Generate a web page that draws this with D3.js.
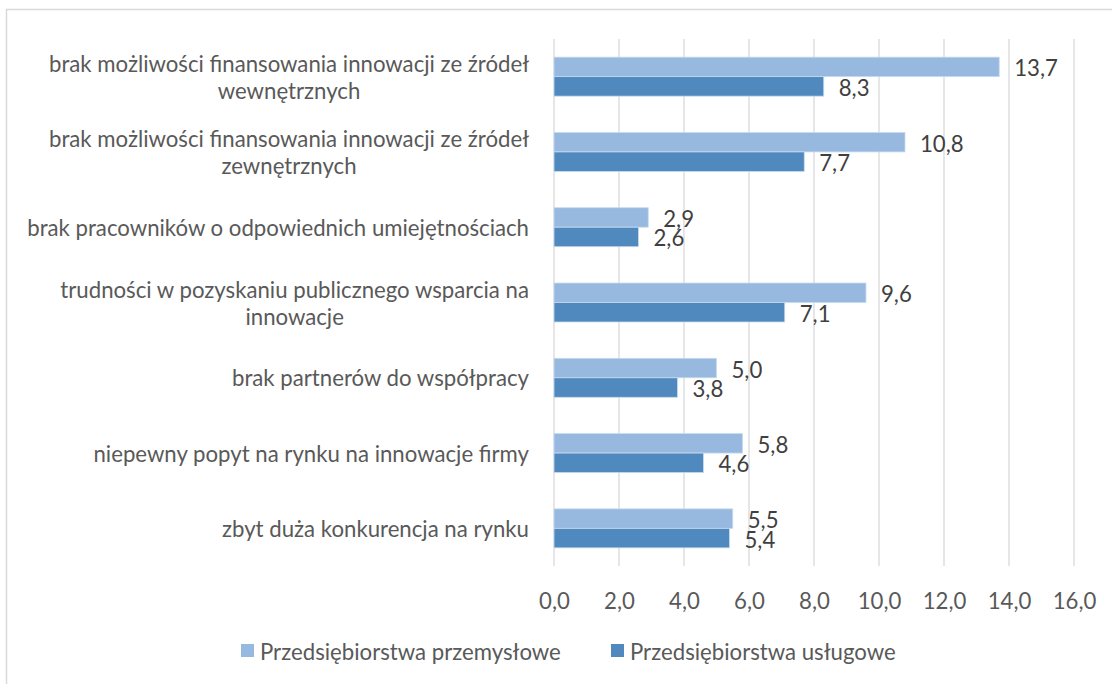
<!DOCTYPE html>
<html><head><meta charset="utf-8">
<script src="https://cdn.jsdelivr.net/npm/d3@7"></script>
<style>body{margin:0;background:#fff;} svg{display:block;}</style>
</head><body>
<svg id="chart" width="1112" height="684"></svg>
<script>
const categories = [
  "brak możliwości finansowania innowacji ze źródeł\nwewnętrznych",
  "brak możliwości finansowania innowacji ze źródeł\nzewnętrznych",
  "brak pracowników o odpowiednich umiejętnościach",
  "trudności w pozyskaniu publicznego wsparcia na\ninnowacje",
  "brak partnerów do współpracy",
  "niepewny popyt na rynku na innowacje firmy",
  "zbyt duża konkurencja na rynku"
];
const seriesNames = ["Przedsiębiorstwa przemysłowe", "Przedsiębiorstwa usługowe"];
const przemyslowe = [13.7, 10.8, 2.9, 9.6, 5.0, 5.8, 5.5];
const uslugowe = [8.3, 7.7, 2.6, 7.1, 3.8, 4.6, 5.4];
const xTicks = [0, 2, 4, 6, 8, 10, 12, 14, 16];
const colors = ["#97b9e0", "#4f89bd"];

const FONT = "Lato, 'Open Sans', sans-serif";
const svg = d3.select("#chart");

svg.append("rect").attr("x", 6.5).attr("y", 9.5).attr("width", 1200).attr("height", 800)
  .attr("fill", "#fff").attr("stroke", "#d9d9d9").attr("stroke-width", 1.5);

const mLeft = 554, mRight = 1074, mTop = 39, mBottom = 566;
const x = d3.scaleLinear().domain([0, 16]).range([mLeft, mRight]);
const p = 0.482;
const y = d3.scaleBand().domain(categories).range([mTop, mBottom]).paddingInner(p).paddingOuter(p / 2);
const ySub = d3.scaleBand().domain([0, 1]).range([0, y.bandwidth()]);

// measure font size to fit label width
const probe = svg.append("text").attr("font-family", FONT).attr("font-size", 20)
  .text("brak pracowników o odpowiednich umiejętnościach");
const w20 = probe.node().getComputedTextLength();
probe.remove();
const fs = 20 * 502 / w20;

// gridlines
svg.append("g").selectAll("line").data(xTicks).join("line")
  .attr("x1", d => x(d)).attr("x2", d => x(d))
  .attr("y1", mTop).attr("y2", mBottom)
  .attr("stroke", "#d9d9d9").attr("stroke-width", 1.3);

// x axis labels
const xAxis = d3.axisBottom(x).tickValues(xTicks).tickSize(0)
  .tickFormat(d => d3.format(".1f")(d).replace(".", ","));
const gx = svg.append("g").attr("transform", `translate(0,${mBottom})`).call(xAxis);
gx.select(".domain").remove();
gx.selectAll("text").attr("font-family", FONT).attr("font-size", fs).attr("fill", "#595959")
  .attr("dy", null).attr("y", 34).attr("dominant-baseline", "central");

// bars
const data = categories.map((c, i) => ({c, vals: [przemyslowe[i], uslugowe[i]]}));
const groups = svg.append("g").selectAll("g").data(data).join("g")
  .attr("transform", d => `translate(0,${y(d.c)})`);
groups.selectAll("rect").data(d => d.vals.map((v, k) => ({v, k}))).join("rect")
  .attr("x", x(0)).attr("y", d => ySub(d.k))
  .attr("width", d => x(d.v) - x(0)).attr("height", ySub.bandwidth())
  .attr("fill", d => colors[d.k]).attr("stroke", "#c9dbef").attr("stroke-width", 0.8);
groups.selectAll("text.val").data(d => d.vals.map((v, k) => ({v, k}))).join("text")
  .attr("class", "val")
  .attr("x", d => x(d.v) + 15).attr("y", d => ySub(d.k) + ySub.bandwidth() / 2 + 1)
  .attr("dominant-baseline", "central")
  .attr("font-family", FONT).attr("font-size", fs).attr("fill", "#404040")
  .text(d => d3.format(".1f")(d.v).replace(".", ","));

// category labels
const labelRight = 529, lineH = 27;
categories.forEach(c => {
  const lines = c.split("\n");
  const g = svg.append("g");
  const cy = y(c) + y.bandwidth() / 2;
  const texts = lines.map((ln, i) => g.append("text")
    .attr("font-family", FONT).attr("font-size", fs).attr("fill", "#595959")
    .attr("text-anchor", "middle").attr("dominant-baseline", "central")
    .attr("y", cy + (i - (lines.length - 1) / 2) * lineH).text(ln));
  const maxW = d3.max(texts, t => t.node().getComputedTextLength());
  texts.forEach(t => t.attr("x", labelRight - maxW / 2));
});

// legend
const legX = [241, 611];
const leg = svg.append("g").selectAll("g").data(seriesNames).join("g")
  .attr("transform", (d, i) => `translate(${legX[i]},644)`);
leg.append("rect").attr("width", 13).attr("height", 13).attr("fill", (d, i) => colors[i]);
leg.append("text").attr("x", 19).attr("y", 7).attr("dominant-baseline", "central")
  .attr("font-family", FONT).attr("font-size", fs).attr("fill", "#595959").text(d => d);
</script>
</body></html>
